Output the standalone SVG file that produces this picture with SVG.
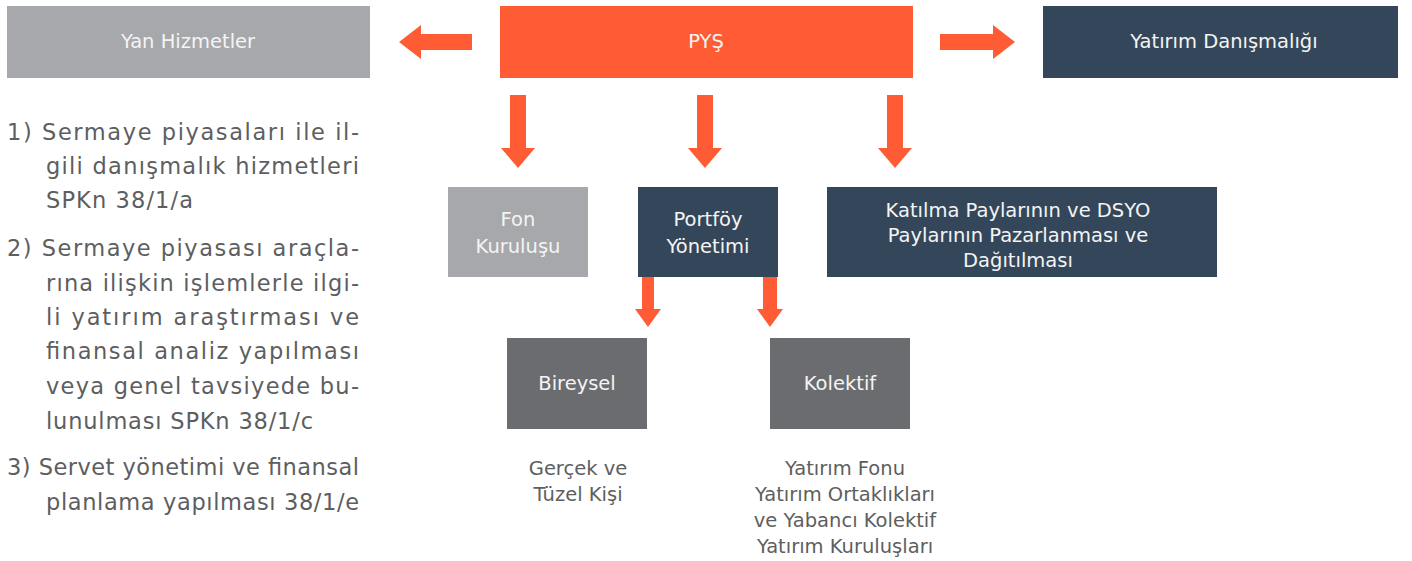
<svg xmlns="http://www.w3.org/2000/svg" width="1412" height="561" viewBox="0 0 1412 561">
<style>
.orange{fill:#ff5b35}
.dark{fill:#34475a}
.light{fill:#a7a8ab}
.mid{fill:#6b6c70}
.bt{font-family:"DejaVu Sans","Liberation Sans",sans-serif;font-size:19.5px;fill:#f4f4f4;text-anchor:middle}
.lt{font-family:"DejaVu Sans","Liberation Sans",sans-serif;font-size:22.5px;fill:#5d5e60}
.ct{font-family:"DejaVu Sans","Liberation Sans",sans-serif;font-size:19.5px;fill:#5d5e60;text-anchor:middle}
.arr{fill:#ff5b35}
</style>
<rect width="1412" height="561" fill="#ffffff"/>
<g id="yan-hizmetler">
<rect class="light" x="7" y="6" width="363" height="72"/>
<text class="bt" x="188" y="48">Yan Hizmetler</text>
</g>
<g id="pys">
<rect class="orange" x="500" y="6" width="413" height="72"/>
<text class="bt" x="706" y="48">PYŞ</text>
</g>
<g id="yatirim-danismaligi">
<rect class="dark" x="1043" y="6" width="355" height="72"/>
<text class="bt" x="1224" y="48">Yatırım Danışmalığı</text>
</g>
<g id="fon-kurulusu">
<rect class="light" x="448" y="187" width="140" height="90"/>
<text class="bt" x="518" y="226">Fon</text>
<text class="bt" x="518" y="253">Kuruluşu</text>
</g>
<g id="portfoy-yonetimi">
<rect class="dark" x="638" y="187" width="140" height="90"/>
<text class="bt" x="708" y="226">Portföy</text>
<text class="bt" x="708" y="253">Yönetimi</text>
</g>
<g id="katilma">
<rect class="dark" x="827" y="187" width="390" height="90"/>
<text class="bt" x="1018" y="217">Katılma Paylarının ve DSYO</text>
<text class="bt" x="1018" y="242">Paylarının Pazarlanması ve</text>
<text class="bt" x="1018" y="267">Dağıtılması</text>
</g>
<g id="bireysel">
<rect class="mid" x="507" y="338" width="140" height="91"/>
<text class="bt" x="577" y="390">Bireysel</text>
</g>
<g id="kolektif">
<rect class="mid" x="770" y="338" width="140" height="91"/>
<text class="bt" x="840" y="390">Kolektif</text>
</g>
<g id="bireysel-label">
<text class="ct" x="578" y="475">Gerçek ve</text>
<text class="ct" x="578" y="501">Tüzel Kişi</text>
</g>
<g id="kolektif-label">
<text class="ct" x="845" y="475">Yatırım Fonu</text>
<text class="ct" x="845" y="501">Yatırım Ortaklıkları</text>
<text class="ct" x="845" y="527">ve Yabancı Kolektif</text>
<text class="ct" x="845" y="553">Yatırım Kuruluşları</text>
</g>
<g id="hizmetler-listesi">
<text class="lt" x="7" y="140" textLength="352" lengthAdjust="spacing">1) Sermaye piyasaları ile il-</text>
<text class="lt" x="46" y="174" textLength="313" lengthAdjust="spacing">gili danışmalık hizmetleri</text>
<text class="lt" x="46" y="208" textLength="147" lengthAdjust="spacing">SPKn 38/1/a</text>
<text class="lt" x="7" y="256" textLength="352" lengthAdjust="spacing">2) Sermaye piyasası araçla-</text>
<text class="lt" x="46" y="291" textLength="313" lengthAdjust="spacing">rına ilişkin işlemlerle ilgi-</text>
<text class="lt" x="46" y="325" textLength="313" lengthAdjust="spacing">li yatırım araştırması ve</text>
<text class="lt" x="46" y="359" textLength="313" lengthAdjust="spacing">finansal analiz yapılması</text>
<text class="lt" x="46" y="394" textLength="313" lengthAdjust="spacing">veya genel tavsiyede bu-</text>
<text class="lt" x="46" y="429" textLength="267" lengthAdjust="spacing">lunulması SPKn 38/1/c</text>
<text class="lt" x="7" y="475" textLength="352" lengthAdjust="spacing">3) Servet yönetimi ve finansal</text>
<text class="lt" x="46" y="510" textLength="313" lengthAdjust="spacing">planlama yapılması 38/1/e</text>
</g>
<g id="connectors">
<polygon class="arr" points="472,34 421,34 421,25 399,42 421,59 421,50 472,50"/>
<polygon class="arr" points="940,34 993,34 993,25 1015,42 993,59 993,50 940,50"/>
<polygon class="arr" points="510,95 526,95 526,148 535,148 518,168 501,148 510,148"/>
<polygon class="arr" points="697,95 713,95 713,148 722,148 705,168 688,148 697,148"/>
<polygon class="arr" points="887,95 903,95 903,148 912,148 895,168 878,148 887,148"/>
<polygon class="arr" points="642,277 654,277 654,309 661,309 648,327 635,309 642,309"/>
<polygon class="arr" points="763,277 777,277 777,309 783,309 770,327 757,309 763,309"/>
</g>
</svg>
